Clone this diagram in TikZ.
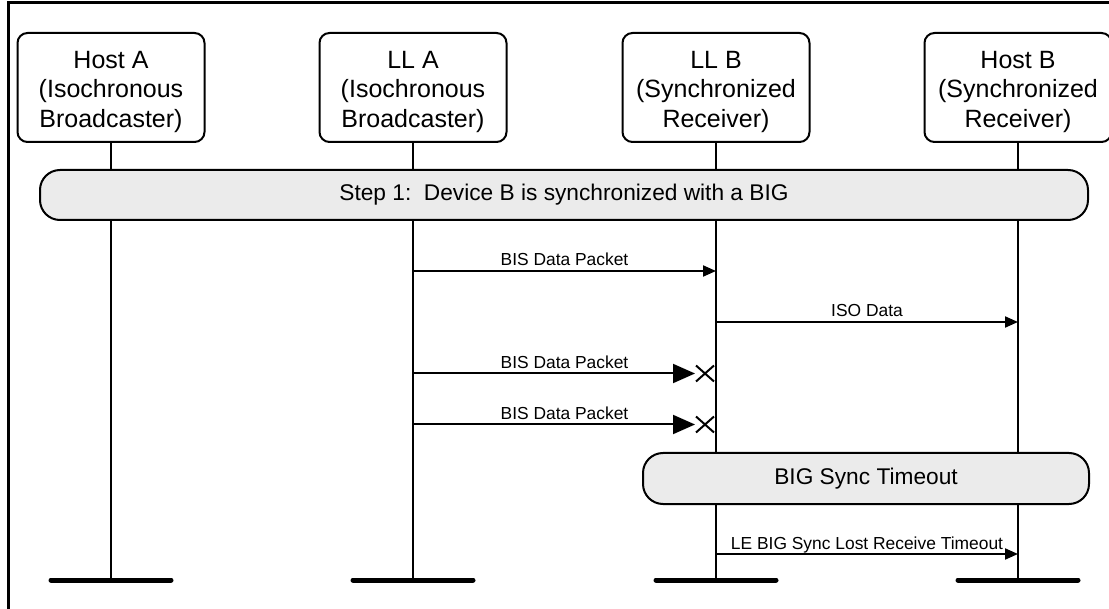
\documentclass[tikz,border=0pt]{standalone}
\usepackage{fontspec}
\setmainfont{Liberation Sans}
\usetikzlibrary{arrows.meta,calc}
\definecolor{barfill}{HTML}{EBEBEB}
\begin{document}
\begin{tikzpicture}[x=1pt,y=-1pt,
  actor/.style={draw, line width=2pt, rounded corners=10pt, minimum width=187pt, minimum height=109pt, align=center, font=\fontsize{25}{29.5}\selectfont, inner sep=0pt},
  life/.style={line width=2pt},
  base/.style={line width=5pt, line cap=round},
  bar/.style={draw, line width=2pt, fill=barfill, rounded corners=20pt, font=\fontsize{22.7}{26}\selectfont, inner sep=0pt},
  msg/.style={line width=2pt, -{Triangle[length=13pt,width=11pt]}},
  lost/.style={line width=2pt, -{Triangle[length=22pt,width=19pt]}},
  lbl/.style={font=\fontsize{17.4}{20}\selectfont, anchor=base, inner sep=0pt, yshift=5pt},
  cross/.style={line width=2pt},
]
\useasboundingbox (0,0) rectangle (1109,609);
\draw[line width=3pt] (8,3) rectangle (1130,630);

% actors
\node[actor] (hA) at (111,87.5) {\rule{0pt}{26pt}Host A\\(Isochronous\\Broadcaster)};
\node[actor] (lA) at (413,87.5) {\rule{0pt}{26pt}LL A\\(Isochronous\\Broadcaster)};
\node[actor] (lB) at (716,87.5) {\rule{0pt}{26pt}LL B\\(Synchronized\\Receiver)};
\node[actor] (hB) at (1018,87.5) {\rule{0pt}{26pt}Host B\\(Synchronized\\Receiver)};

% lifeline ends
\coordinate (hAe) at (111,580);
\coordinate (lAe) at (413,580);
\coordinate (lBe) at (716,580);
\coordinate (hBe) at (1018,580);

\foreach \a/\e in {hA/hAe, lA/lAe, lB/lBe, hB/hBe}{
  \draw[life] (\a.south) -- (\e);
  \draw[base] ([xshift=-60pt]\e) -- ([xshift=60pt]\e);
}

% step bars
\node[bar, minimum width=1048pt, minimum height=50pt] (step1) at (564,195) {Step 1:\ \ Device B is synchronized with a BIG};
\node[bar, minimum width=446pt, minimum height=51pt] (timeout) at (866,478.5) {BIG Sync Timeout};

% message rows
\coordinate (m1) at (0,271);
\coordinate (m2) at (0,322);
\coordinate (m3) at (0,373.5);
\coordinate (m4) at (0,424.5);
\coordinate (m5) at (0,554);

\draw[msg] (lA |- m1) -- node[lbl] {BIS Data Packet} (lB |- m1);
\draw[msg] (lB |- m2) -- node[lbl] {ISO Data} (hB |- m2);

\coordinate (x3) at ([xshift=-11pt]lB |- m3);
\coordinate (x4) at ([xshift=-11pt]lB |- m4);
\draw[lost] (lA |- m3) -- ([xshift=-10pt]x3);
\draw[lost] (lA |- m4) -- ([xshift=-10pt]x4);
\node[lbl] (l3) at ($(lA |- m3)!0.5!(lB |- m3)$) {BIS Data Packet};
\node[lbl] (l4) at ($(lA |- m4)!0.5!(lB |- m4)$) {BIS Data Packet};
\foreach \c in {x3, x4}{
  \draw[cross] ([shift={(-9pt,8pt)}]\c) -- ([shift={(9pt,-8pt)}]\c);
  \draw[cross] ([shift={(-9pt,-8pt)}]\c) -- ([shift={(9pt,8pt)}]\c);
}

\draw[msg] (lB |- m5) -- node[lbl] {LE BIG Sync Lost Receive Timeout} (hB |- m5);
\end{tikzpicture}
\end{document}
